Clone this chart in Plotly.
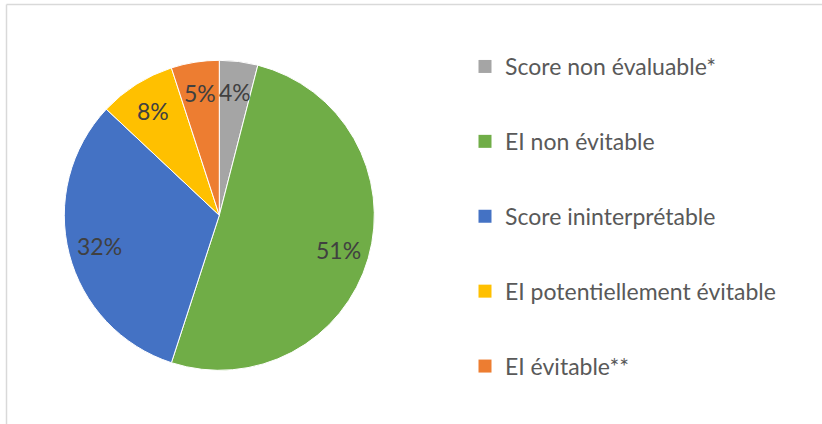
import math
import plotly.graph_objects as go

labels = ["Score non évaluable*", "EI non évitable", "Score ininterprétable",
          "EI potentiellement évitable", "EI évitable**"]
values = [4, 51, 32, 8, 5]
colors = ["#A5A5A5", "#70AD47", "#4472C4", "#FFC000", "#ED7D31"]

W, H = 822, 424
FONT = "Lato"
CX, CY, R = 219.3, 215.3, 155.0   # pie centre / radius in pixels
LABEL_FRAC = 0.8

fig = go.Figure()
fig.add_trace(go.Pie(
    labels=labels, values=values, sort=False, direction="clockwise", rotation=0,
    marker=dict(colors=colors, line=dict(color="white", width=1)),
    textinfo="none", showlegend=False, hoverinfo="label+percent",
    domain=dict(x=[(CX - R) / W, (CX + R) / W], y=[1 - (CY + R) / H, 1 - (CY - R) / H]),
))
for i, (lab, col) in enumerate(zip(labels, colors)):
    fig.add_trace(go.Scatter(
        x=[None], y=[None], mode="markers", name=lab, legendgroup=f"g{i}",
        marker=dict(symbol="square", size=13, color=col), showlegend=True,
    ))

# data labels placed at the middle angle of each slice
total = sum(values)
annotations = []
cum = 0
for v in values:
    mid = (cum + v / 2) / total * 2 * math.pi
    cum += v
    px = CX + LABEL_FRAC * R * math.sin(mid)
    py = CY - LABEL_FRAC * R * math.cos(mid)
    annotations.append(dict(
        x=px / W, y=1 - py / H, xref="paper", yref="paper", showarrow=False,
        text=f"{round(v / total * 100)}%", xanchor="center", yanchor="middle",
        font=dict(family=FONT, size=23, color="#404040"),
    ))

fig.update_layout(
    width=W, height=H,
    margin=dict(l=0, r=0, t=0, b=0),
    paper_bgcolor="white", plot_bgcolor="white",
    xaxis=dict(visible=False), yaxis=dict(visible=False),
    legend=dict(x=465 / W, y=1 - 45 / H, xanchor="left", yanchor="top",
                font=dict(family=FONT, size=23, color="#595959"),
                tracegroupgap=42, bgcolor="rgba(0,0,0,0)"),
    annotations=annotations,
    shapes=[
        dict(type="line", xref="paper", yref="paper", x0=6.5 / W, x1=1.01,
             y0=1 - 4.5 / H, y1=1 - 4.5 / H, line=dict(color="#D9D9D9", width=1.5)),
        dict(type="line", xref="paper", yref="paper", x0=6.5 / W, x1=6.5 / W,
             y0=-0.01, y1=1 - 4.5 / H, line=dict(color="#D9D9D9", width=1.5)),
    ],
)
fig.write_html("out.html", config={"displayModeBar": False},
               post_script="document.body.style.margin='0';document.body.style.padding='0';")
